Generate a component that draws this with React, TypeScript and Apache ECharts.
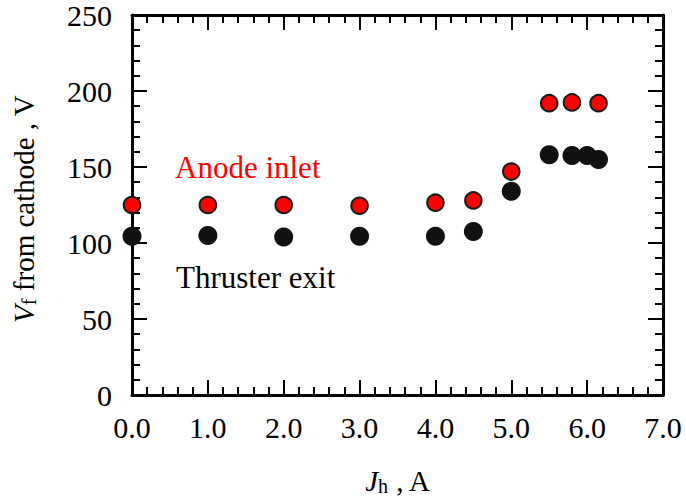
import React, { useEffect, useRef } from "react";
import * as echarts from "echarts";

// Heater current J_h (A) and floating potential V_f (V) at two probe locations
const currentAnode = [0, 1, 2, 3, 4, 4.5, 5, 5.5, 5.8, 6.15];
const vfAnode = [125, 125, 125, 124.5, 126.5, 128, 147, 192, 192.5, 192];

const currentExit = [0, 1, 2, 3, 4, 4.5, 5, 5.5, 5.8, 6.0, 6.15];
const vfExit = [104.5, 105, 104, 104.5, 104.5, 107.5, 134, 158, 157.5, 157.5, 155];

const seriesNames = ["Thruster exit", "Anode inlet"];

const FONT = "Times New Roman, Liberation Serif, serif";

const pairs = (xs: number[], ys: number[]) => xs.map((x, i) => [x, ys[i]]);

const tickStyle = { color: "#000", width: 2 };

function makeXAxis(position: "bottom" | "top", showLabels: boolean) {
  return {
    type: "value",
    position,
    min: 0,
    max: 7,
    interval: 1,
    axisLine: { show: true, onZero: false, lineStyle: { color: "#000", width: 3 } },
    axisTick: { show: true, inside: true, length: 15, lineStyle: tickStyle },
    minorTick: { show: true, splitNumber: 5, length: 8, lineStyle: tickStyle },
    splitLine: { show: false },
    axisLabel: {
      show: showLabels,
      formatter: (v: number) => v.toFixed(1),
      color: "#000",
      fontFamily: FONT,
      fontSize: 30,
      margin: 17,
    },
  };
}

function makeYAxis(position: "left" | "right", showLabels: boolean) {
  return {
    type: "value",
    position,
    min: 0,
    max: 250,
    interval: 50,
    axisLine: { show: true, onZero: false, lineStyle: { color: "#000", width: 3 } },
    axisTick: { show: true, inside: true, length: 15, lineStyle: tickStyle },
    minorTick: { show: true, splitNumber: 5, length: 8, lineStyle: tickStyle },
    splitLine: { show: false },
    axisLabel: {
      show: showLabels,
      color: "#000",
      fontFamily: FONT,
      fontSize: 30,
      margin: 20,
    },
  };
}

const titleRich = {
  i: { fontFamily: FONT, fontSize: 29, fontStyle: "italic", lineHeight: 30, color: "#000" },
  s: { fontFamily: FONT, fontSize: 20, lineHeight: 10, verticalAlign: "bottom", color: "#000" },
  n: { fontFamily: FONT, fontSize: 29, lineHeight: 30, color: "#000" },
};

export default function App() {
  const ref = useRef<HTMLDivElement>(null);

  useEffect(() => {
    document.body.style.margin = "0";
    if (!ref.current) return;
    const chart = echarts.init(ref.current, undefined, { renderer: "svg" });

    chart.setOption({
      animation: false,
      backgroundColor: "#fff",
      textStyle: { fontFamily: FONT },
      grid: { left: 132, top: 15, right: 23, bottom: 107, containLabel: false },
      xAxis: [makeXAxis("bottom", true), makeXAxis("top", false)],
      yAxis: [makeYAxis("left", true), makeYAxis("right", false)],
      series: [
        {
          name: seriesNames[0],
          type: "scatter",
          xAxisIndex: 0,
          yAxisIndex: 0,
          data: pairs(currentExit, vfExit),
          symbol: "circle",
          symbolSize: 19,
          itemStyle: { color: "#111111", opacity: 1 },
        },
        {
          name: seriesNames[1],
          type: "scatter",
          xAxisIndex: 0,
          yAxisIndex: 0,
          data: pairs(currentAnode, vfAnode),
          symbol: "circle",
          symbolSize: 16.5,
          itemStyle: { color: "#ff0000", borderColor: "#1a1a1a", borderWidth: 2, opacity: 1 },
        },
      ],
      graphic: [
        {
          type: "text",
          left: 175,
          top: 152,
          style: { text: seriesNames[1], fill: "#ff0000", fontFamily: FONT, fontSize: 31 },
        },
        {
          type: "text",
          left: 176,
          top: 262,
          style: { text: seriesNames[0], fill: "#000", fontFamily: FONT, fontSize: 31 },
        },
        {
          type: "text",
          x: 398,
          y: 481,
          style: {
            text: "{i|J}{s|h}{n| , A}",
            textAlign: "center",
            textVerticalAlign: "middle",
            rich: titleRich,
          },
        },
        {
          type: "text",
          x: 24,
          y: 209,
          rotation: Math.PI / 2,
          style: {
            text: "{i|V}{s|f}{n| from cathode , V}",
            textAlign: "center",
            textVerticalAlign: "middle",
            rich: titleRich,
          },
        },
      ],
    });

    return () => chart.dispose();
  }, []);

  return <div ref={ref} style={{ width: 686, height: 502 }} />;
}
